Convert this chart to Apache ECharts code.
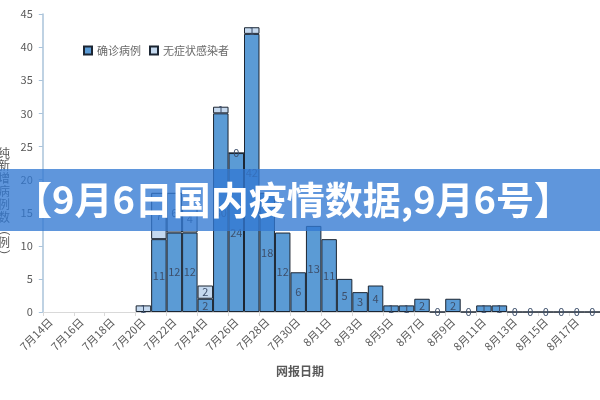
<!DOCTYPE html>
<html><head><meta charset="utf-8">
<script src="https://cdn.jsdelivr.net/npm/echarts@6/dist/echarts.min.js"></script>
<style>html,body{margin:0;padding:0;background:#fff}#c{width:600px;height:400px}</style>
</head><body><div id="c"></div>
<script>
var dates = ['7月14日','7月15日','7月16日','7月17日','7月18日','7月19日','7月20日','7月21日','7月22日','7月23日','7月24日','7月25日','7月26日','7月27日','7月28日','7月29日','7月30日','7月31日','8月1日','8月2日','8月3日','8月4日','8月5日','8月6日','8月7日','8月8日','8月9日','8月10日','8月11日','8月12日','8月13日','8月14日','8月15日','8月16日','8月17日','8月18日'];
var confirmed = [null,null,null,null,null,null,null,11,12,12,2,30,24,42,18,12,6,13,11,5,3,4,1,1,2,0,2,0,1,1,0,0,0,0,0,0];
var asymptomatic = [null,null,null,null,null,null,1,7,6,4,2,1,0,1,null,null,null,null,null,null,null,null,null,null,null,null,null,null,null,null,null,null,null,null,null,null];
var yTicks = {min:0, max:45, interval:5};
var seriesNames = ['确诊病例','无症状感染者'];
var bannerText = '【9月6日国内疫情数据,9月6号】';
var yTitle = ['纯','新','增','病','例','数','（','例','）'];
var xTitle = '网报日期';

var FONT = '"Noto Sans CJK SC", "Noto Sans", sans-serif';
var chart = echarts.init(document.getElementById('c'), null, {renderer:'canvas'});
var lbl = {show:true, position:'inside', color:'#3d4f6b', fontSize:11, fontFamily:FONT};
var titleEls = yTitle.map(function(ch, i){
  var isParen = (ch === '（' || ch === '）');
  return {type:'text', x:4, y:153 + i*12.8, rotation: isParen ? -Math.PI/2 : 0, z:5,
    style:{text:ch, fill:'#595959', font:'12px '+FONT, align:'center', verticalAlign:'middle'}};
});
chart.setOption({
  animation:false,
  textStyle:{fontFamily:FONT},
  grid:{left:42.8, top:14, width:565, height:298, containLabel:false},
  legend:{left:78, top:40, itemWidth:8, itemHeight:8, itemGap:8, icon:'rect',
    textStyle:{color:'#6a6a6a', fontSize:11, fontFamily:FONT},
    data:seriesNames},
  xAxis:{type:'category', data:dates, boundaryGap:true,
    axisLine:{lineStyle:{color:'#d9d9d9', width:1}},
    axisTick:{show:true, interval:1, length:4, lineStyle:{color:'#d9d9d9'}},
    axisLabel:{interval:1, rotate:45, margin:8, color:'#595959', fontSize:11, fontFamily:FONT}},
  yAxis:{type:'value', min:yTicks.min, max:yTicks.max, interval:yTicks.interval,
    splitLine:{show:false},
    axisLine:{show:true, lineStyle:{color:'#aac3da', width:1.5}},
    axisTick:{show:true, inside:false, length:4, lineStyle:{color:'#aac3da'}},
    axisLabel:{color:'#595959', fontSize:11, margin:10, fontFamily:FONT}},
  series:[
    {name:seriesNames[0], type:'bar', stack:'a', data:confirmed, barWidth:'100%',
      itemStyle:{color:'#5b9bd5', borderColor:'#1c2633', borderWidth:1}, label:lbl},
    {name:seriesNames[1], type:'bar', stack:'a', data:asymptomatic, barWidth:'100%',
      itemStyle:{color:'#c5d9ef', borderColor:'#1c2633', borderWidth:1}, label:lbl}
  ],
  graphic:titleEls.concat([
    {type:'text', left:'center', top:365, z:5,
      style:{text:xTitle, fill:'#595959', font:'bold 12px '+FONT}},
    {type:'rect', shape:{x:0, y:169, width:600, height:62}, z:100,
      style:{fill:'rgba(50,120,210,0.78)'}},
    {type:'text', x:293, y:200, z:101,
      style:{text:bannerText, fill:'#ffffff', font:'bold 38px '+FONT, align:'center', verticalAlign:'middle'}}
  ])
});
</script></body></html>
